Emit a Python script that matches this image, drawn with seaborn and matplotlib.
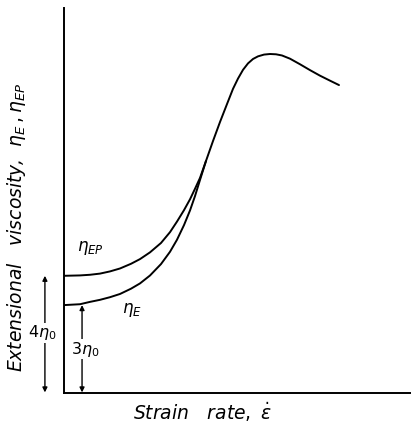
import matplotlib
matplotlib.use("Agg")
import matplotlib.pyplot as plt
import seaborn as sns
import pandas as pd

# ---- data (viscosity in units of eta_0, strain rate in arbitrary units) ----
strain_ep = [0.0, 0.461, 0.749, 1.037, 1.326, 1.614, 1.931, 2.190, 2.478,
             2.795, 3.055, 3.256, 3.458, 3.631, 3.775, 3.919, 4.092]
visc_ep = [4.0, 4.013, 4.035, 4.075, 4.15, 4.25, 4.41, 4.57, 4.80,
           5.12, 5.49, 5.85, 6.24, 6.61, 6.97, 7.34, 7.92]

strain_e = [0.0, 0.461, 0.749, 1.037, 1.326, 1.614, 1.931, 2.190, 2.478,
            2.795, 3.055, 3.256, 3.458, 3.631, 3.775, 3.919, 4.092, 4.294,
            4.496, 4.697, 4.870, 5.014, 5.159, 5.303, 5.447, 5.591, 5.764,
            5.937, 6.110, 6.282, 6.513, 6.801, 7.089, 7.378, 7.666, 7.925]
visc_e = [3.0, 3.03, 3.11, 3.18, 3.27, 3.38, 3.56, 3.74, 4.01,
          4.40, 4.82, 5.23, 5.73, 6.23, 6.72, 7.27, 7.92, 8.60,
          9.25, 9.86, 10.38, 10.73, 11.03, 11.25, 11.40, 11.49, 11.55,
          11.57, 11.56, 11.52, 11.41, 11.22, 11.02, 10.83, 10.66, 10.51]

curve_names = ["EP", "E"]
level_values = [4, 3]  # multiples of eta_0 at zero strain rate

df = pd.concat([
    pd.DataFrame({"strain": strain_ep, "visc": visc_ep, "curve": curve_names[0]}),
    pd.DataFrame({"strain": strain_e, "visc": visc_e, "curve": curve_names[1]}),
], ignore_index=True)

sns.set_theme(style="white")
plt.rcParams["mathtext.fontset"] = "dejavusans"
plt.rcParams["text.color"] = "black"
plt.rcParams["axes.labelcolor"] = "black"

fig = plt.figure(figsize=(4.11, 4.25), dpi=100)
ax = fig.add_axes([64 / 411, 32 / 425, 347 / 411, 385 / 425])

sns.lineplot(data=df, x="strain", y="visc", hue="curve", units="curve",
             estimator=None, sort=False, palette={"EP": "black", "E": "black"},
             linewidth=1.4, legend=False, ax=ax)

ax.set_xlim(0, 10)
ax.set_ylim(0, 13.14)
ax.set_xticks([])
ax.set_yticks([])
for s in ["top", "right"]:
    ax.spines[s].set_visible(False)
for s in ["left", "bottom"]:
    ax.spines[s].set_color("black")
    ax.spines[s].set_linewidth(1.4)

ax.set_xlabel(r"$\mathit{Strain\ \ \ rate,\ }\dot{\varepsilon}$", fontsize=13.5,
              color="black")
ax.xaxis.set_label_coords((203 - 64) / 347, -(412 - 393) / 385, transform=ax.transAxes)
ax.xaxis.label.set_va("center")
ax.set_ylabel(r"Extensional   viscosity,  $\eta_{\mathit{E}}\,,\eta_{\mathit{EP}}$",
              fontsize=13.5, style="italic", color="black")
ax.yaxis.set_label_coords(-(64 - 17) / 347, (393 - 227) / 385, transform=ax.transAxes)
ax.yaxis.label.set_va("center")

# curve labels
ax.text(0.75, 4.95, r"$\eta_{\mathit{EP}}$", fontsize=12, ha="center", va="center")
ax.text(1.96, 2.83, r"$\eta_{\mathit{E}}$", fontsize=12, ha="center", va="center")

# level arrows
for xpos, lvl, tx, ty in [(-0.55, level_values[0], -0.62, 2.05),
                          (0.52, level_values[1], 0.6, 1.5)]:
    ax.annotate("", xy=(xpos, lvl), xytext=(xpos, 0.02),
                arrowprops=dict(arrowstyle="<|-|>", color="black", lw=1.0,
                                mutation_scale=7, shrinkA=0, shrinkB=0),
                annotation_clip=False)
    ax.text(tx, ty, r"$%d\eta_0$" % lvl,
            fontsize=11.5, ha="center", va="center", clip_on=False,
            bbox=dict(facecolor="white", edgecolor="none", pad=0.3))

fig.savefig("out.png", dpi=100)
